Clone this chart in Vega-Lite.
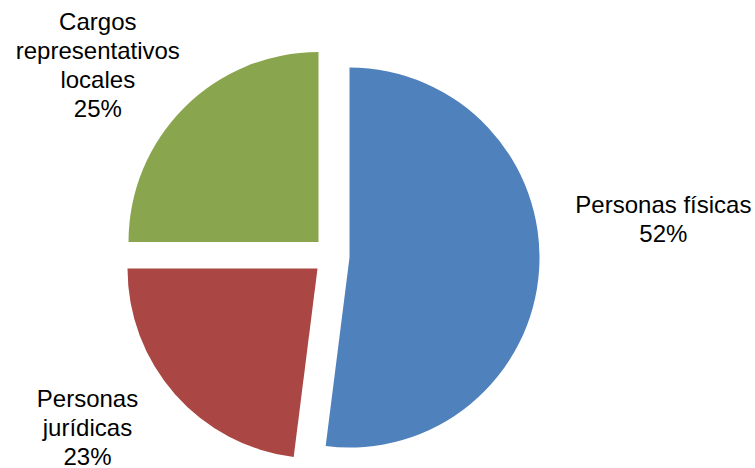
{
  "$schema": "https://vega.github.io/schema/vega-lite/v6.json",
  "autosize": "none",
  "width": 665,
  "height": 424,
  "padding": {"left": 0, "top": 44, "right": 90, "bottom": 0},
  "background": "white",
  "config": {"view": {"stroke": null}},
  "data": {
    "values": [
      {"order": 1, "category": "Personas físicas", "value": 52, "label": "Personas físicas\n52%"},
      {"order": 2, "category": "Personas jurídicas", "value": 23, "label": "Personas\njurídicas\n23%"},
      {"order": 3, "category": "Cargos representativos locales", "value": 25, "label": "Cargos\nrepresentativos\nlocales\n25%"}
    ]
  },
  "transform": [
    {"stack": "value", "groupby": [], "sort": [{"field": "order"}], "as": ["v0", "v1"]},
    {"calculate": "(datum.v0 + datum.v1) / 2", "as": "mid"}
  ],
  "layer": [
    {
      "transform": [{"filter": "datum.order == 1"}],
      "mark": {"type": "arc", "radius": 190, "xOffset": 17, "yOffset": 1.5, "color": "#4F81BD"},
      "encoding": {
        "theta": {"field": "v0", "type": "quantitative", "scale": {"domain": [0, 100], "range": [0, 6.283185307]}},
        "theta2": {"field": "v1"}
      }
    },
    {
      "transform": [{"filter": "datum.order == 2"}],
      "mark": {"type": "arc", "radius": 190, "xOffset": -15, "yOffset": 12.5, "color": "#AA4643"},
      "encoding": {
        "theta": {"field": "v0", "type": "quantitative", "scale": {"domain": [0, 100], "range": [0, 6.283185307]}},
        "theta2": {"field": "v1"}
      }
    },
    {
      "transform": [{"filter": "datum.order == 3"}],
      "mark": {"type": "arc", "radius": 190, "xOffset": -14, "yOffset": -14, "color": "#89A54E"},
      "encoding": {
        "theta": {"field": "v0", "type": "quantitative", "scale": {"domain": [0, 100], "range": [0, 6.283185307]}},
        "theta2": {"field": "v1"}
      }
    },
    {
      "transform": [{"filter": "datum.order == 1"}],
      "mark": {"type": "text", "radius": 310, "dx": 21.5, "dy": -69, "font": "Liberation Sans", "fontSize": 24, "lineHeight": 29, "lineBreak": "\n", "align": "center", "baseline": "middle", "color": "#000000"},
      "encoding": {
        "theta": {"field": "mid", "type": "quantitative", "scale": {"domain": [0, 100], "range": [0, 6.283185307]}},
        "text": {"field": "label"}
      }
    },
    {
      "transform": [{"filter": "datum.order == 2"}],
      "mark": {"type": "text", "radius": 310, "dx": -12.5, "dy": -61.5, "font": "Liberation Sans", "fontSize": 24, "lineHeight": 29, "lineBreak": "\n", "align": "center", "baseline": "middle", "color": "#000000"},
      "encoding": {
        "theta": {"field": "mid", "type": "quantitative", "scale": {"domain": [0, 100], "range": [0, 6.283185307]}},
        "text": {"field": "label"}
      }
    },
    {
      "transform": [{"filter": "datum.order == 3"}],
      "mark": {"type": "text", "radius": 310, "dx": -15.5, "dy": -14, "font": "Liberation Sans", "fontSize": 24, "lineHeight": 29, "lineBreak": "\n", "align": "center", "baseline": "middle", "color": "#000000"},
      "encoding": {
        "theta": {"field": "mid", "type": "quantitative", "scale": {"domain": [0, 100], "range": [0, 6.283185307]}},
        "text": {"field": "label"}
      }
    }
  ]
}
